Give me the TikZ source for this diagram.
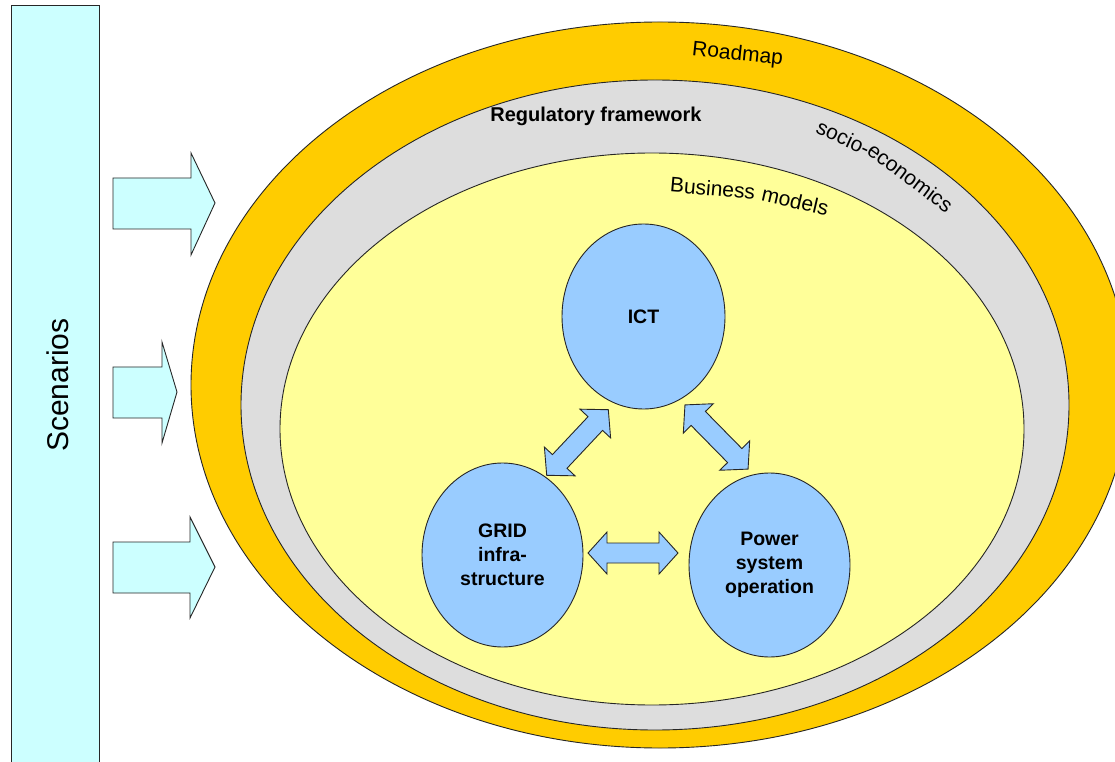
\documentclass[tikz,border=0pt]{standalone}
\usepackage{fontspec}
\setmainfont{Liberation Sans}
\usetikzlibrary{shapes.geometric}
\definecolor{scencyan}{HTML}{CCFFFF}
\definecolor{roadorange}{HTML}{FFCC00}
\definecolor{reggray}{HTML}{DDDDDD}
\definecolor{bizyellow}{HTML}{FFFF99}
\definecolor{coreblue}{HTML}{99CCFF}
\newcommand\corefont{\fontsize{19.5}{24}\selectfont\bfseries}
\newcommand\regfont{\fontsize{20}{24}\selectfont\bfseries}
\newcommand\curvefont{\fontsize{21}{24}\selectfont}
\newcommand\scenfont{\fontsize{30}{36}\selectfont}
\begin{document}
\begin{tikzpicture}[x=1pt,y=1pt,
  outline/.style={draw=black!85, line width=0.9pt},
  band/.style={ellipse, outline, inner sep=0pt},
  core/.style={ellipse, outline, fill=coreblue, inner sep=0pt, align=center, font=\corefont},
  blockarrow/.style={outline, fill=coreblue, line join=miter},
  scenarrow/.style={outline, fill=scencyan, line join=miter},
  layerlabel/.style={font=\curvefont, inner sep=0pt, anchor=base},
  dbl/.pic={\path[blockarrow] (-45,0) -- (-26,21) -- (-26,10) -- (26,10) -- (26,21) -- (45,0) -- (26,-21) -- (26,-10) -- (-26,-10) -- (-26,-21) -- cycle;}
]
\useasboundingbox (0,0) rectangle (1115,761);
\fill[white] (0,0) rectangle (1115,761);
\begin{scope}
\clip (0,0) rectangle (1115,761);
% scenarios bar
\node[outline, fill=scencyan, minimum width=88, minimum height=770, inner sep=0pt, anchor=north west] (scen) at (11,756) {};
\node[rotate=90, font=\scenfont] (scentext) at (58,376) {Scenarios};
% scenario arrows
\draw[scenarrow] (113,583) -- (191,583) -- (191,608) -- (215,558) -- (191,506) -- (191,532) -- (113,532) -- cycle;
\draw[scenarrow] (113,394) -- (162,394) -- (162,419) -- (177,369) -- (162,318) -- (162,343) -- (113,343) -- cycle;
\draw[scenarrow] (113,219) -- (190,219) -- (190,244) -- (215,194) -- (190,143) -- (190,168) -- (113,168) -- cycle;
% nested ellipses
\node[band, fill=roadorange, minimum width=938, minimum height=726] (roadmap) at (660,376) {};
\node[band, fill=reggray, minimum width=828, minimum height=650] (regul) at (655,356) {};
\node[band, fill=bizyellow, minimum width=744, minimum height=552] (business) at (652,332) {};
\end{scope}
% labels of the layers
\node[layerlabel, rotate=-6] (roadlabel) at (737,701) {Roadmap};
\node[font=\regfont] (reglabel) at (596,645) {Regulatory framework};
\node[layerlabel, rotate=-25] (sociolabel) at (840.3,616.7) {socio-};
\node[layerlabel, rotate=-37] (econlabel) at (905.9,577.7) {economics};
\node[layerlabel, rotate=-5] (bizlabel) at (712,565.3) {Business};
\node[layerlabel, rotate=-13] (modlabel) at (793.5,552.8) {models};
% core ellipses
\node[core, minimum width=163, minimum height=185] (ict) at (643.5,444.5) {ICT};
\node[core, minimum width=161, minimum height=184] (grid) at (502.5,206) {GRID\\infra-\\structure};
\node[core, minimum width=161, minimum height=184] (pso) at (769.5,196) {Power\\system\\operation};
% double arrows
\pic at (633,208) {dbl};
\pic[rotate=46.8] at (577.5,318.5) {dbl};
\pic[rotate=-45.5] at (716.5,324) {dbl};
\end{tikzpicture}
\end{document}
